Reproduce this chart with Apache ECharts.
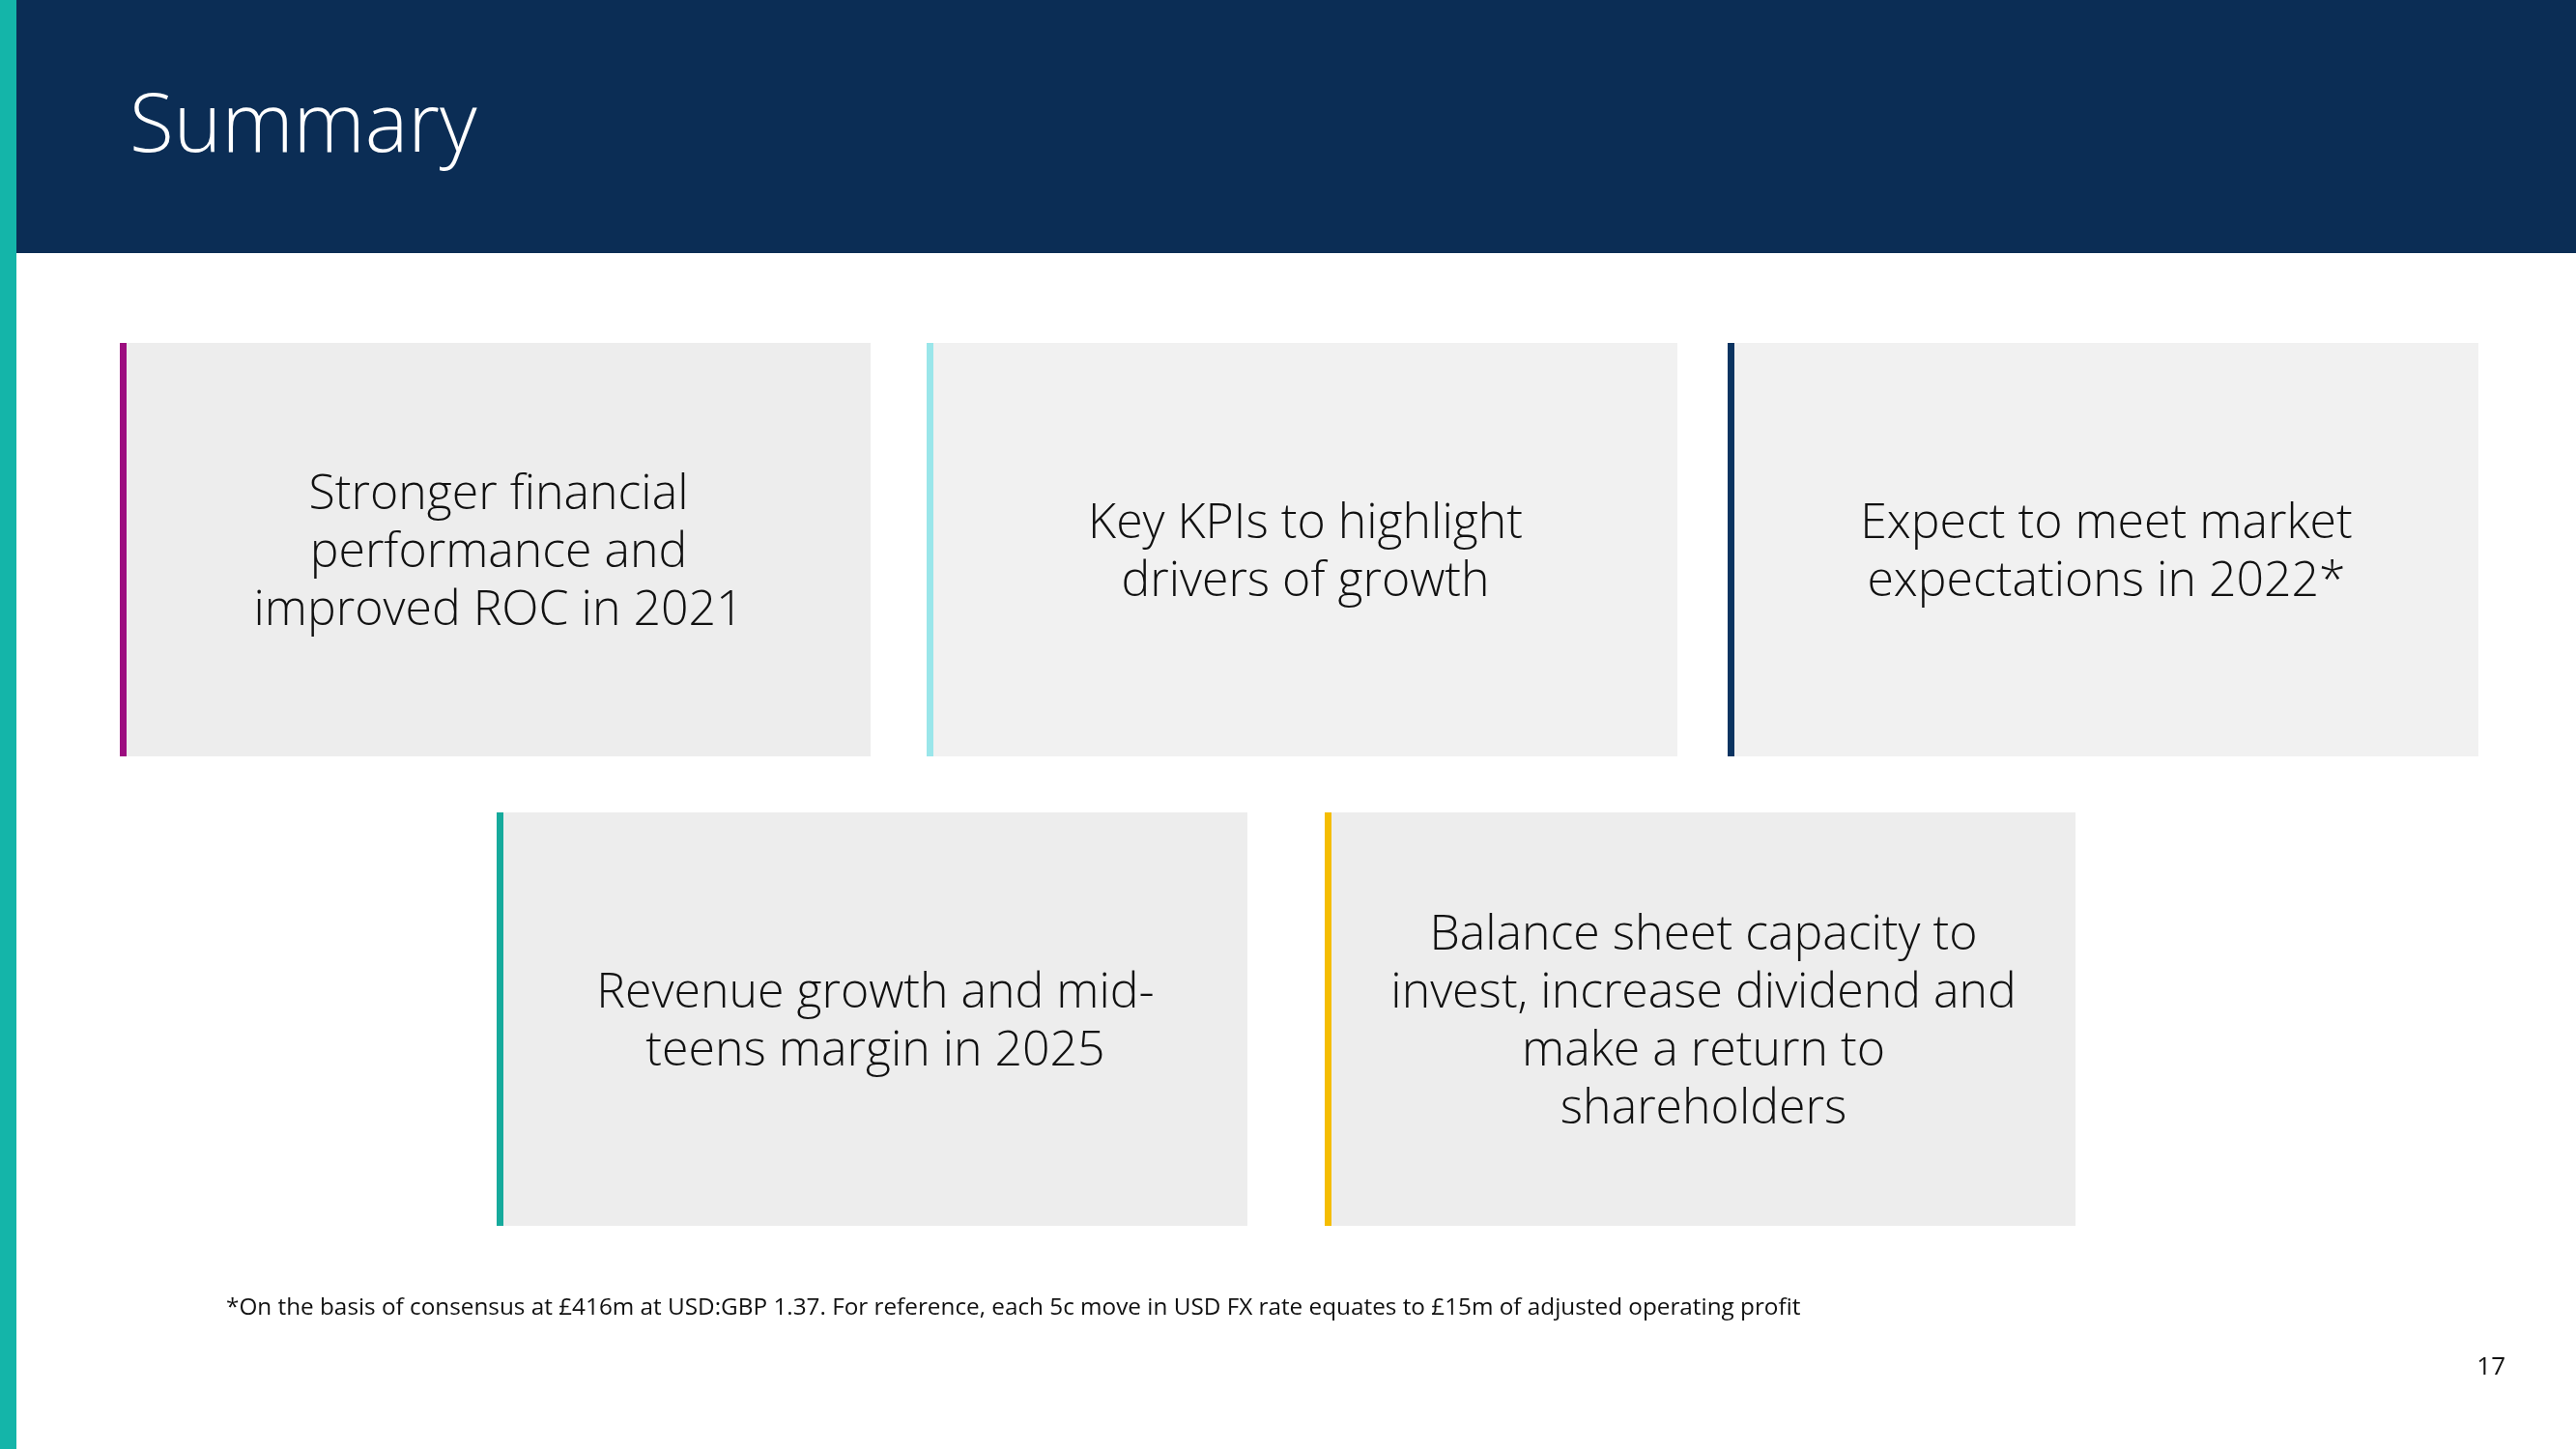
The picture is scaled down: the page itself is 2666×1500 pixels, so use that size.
<!DOCTYPE html>
<html>
<head>
<meta charset="utf-8">
<script src="https://cdn.jsdelivr.net/npm/echarts@6/dist/echarts.min.js"></script>
<style>
html,body{margin:0;padding:0;background:#fff;}
#chart{width:2666px;height:1500px;}
</style>
</head>
<body>
<div id="chart"></div>
<script>
// ---- content ----
const slideTitle = 'Summary';
const boxTexts = [
  'Stronger financial\nperformance and\nimproved ROC in 2021',
  'Key KPIs to highlight\ndrivers of growth',
  'Expect to meet market\nexpectations in 2022*',
  'Revenue growth and mid-\nteens margin in 2025',
  'Balance sheet capacity to\ninvest, increase dividend and\nmake a return to\nshareholders'
];
const accentColors = ['#9C0D7F', '#9AE6EA', '#0B3461', '#16AA9C', '#F5BD02'];
const boxFills = ['#EDEDED', '#F1F1F1', '#F1F1F1', '#EDEDED', '#EDEDED'];
const footnote = '*On the basis of consensus at £416m at USD:GBP 1.37. For reference, each 5c move in USD FX rate equates to £15m of adjusted operating profit';
const pageNumber = '17';

// ---- layout ----
const W = 2666, H = 1500;
const boxW = 777, boxH = 428, stripeW = 7;
const rowTops = [355, 841];
const boxLefts = [124, 959, 1788, 514, 1371];
const boxRows = [0, 0, 0, 1, 1];

const chart = echarts.init(document.getElementById('chart'), null, {renderer: 'canvas'});
const els = [];
els.push({type: 'rect', shape: {x: 0, y: 0, width: W, height: 262}, style: {fill: '#0B2D55'}});
els.push({type: 'rect', shape: {x: 0, y: 0, width: 17, height: H}, style: {fill: '#14B5A9'}});
els.push({type: 'text', style: {text: slideTitle, x: 134, y: 133, fill: '#FFFFFF', fontFamily: 'Open Sans', fontWeight: 300, fontSize: 84, verticalAlign: 'middle', align: 'left'}});

boxTexts.forEach((t, i) => {
  const x = boxLefts[i], y = rowTops[boxRows[i]];
  els.push({type: 'rect', shape: {x: x, y: y, width: boxW, height: boxH}, style: {fill: boxFills[i]}});
  els.push({type: 'rect', shape: {x: x, y: y, width: stripeW, height: boxH}, style: {fill: accentColors[i]}});
  els.push({type: 'text', style: {text: t, x: x + (boxW + stripeW) / 2, y: y + boxH / 2 + 4, fill: '#111111', fontFamily: 'Open Sans', fontWeight: 300, fontSize: 50, lineHeight: 60, align: 'center', verticalAlign: 'middle'}});
});

els.push({type: 'text', style: {text: footnote, x: 234, y: 1354, fill: '#111111', fontFamily: 'Open Sans', fontSize: 24.3, align: 'left', verticalAlign: 'middle'}});
els.push({type: 'text', style: {text: pageNumber, x: 2593, y: 1416, fill: '#111111', fontFamily: 'Open Sans', fontSize: 26, align: 'right', verticalAlign: 'middle'}});

chart.setOption({backgroundColor: '#FFFFFF', animation: false, graphic: {elements: els}});
</script>
</body>
</html>
